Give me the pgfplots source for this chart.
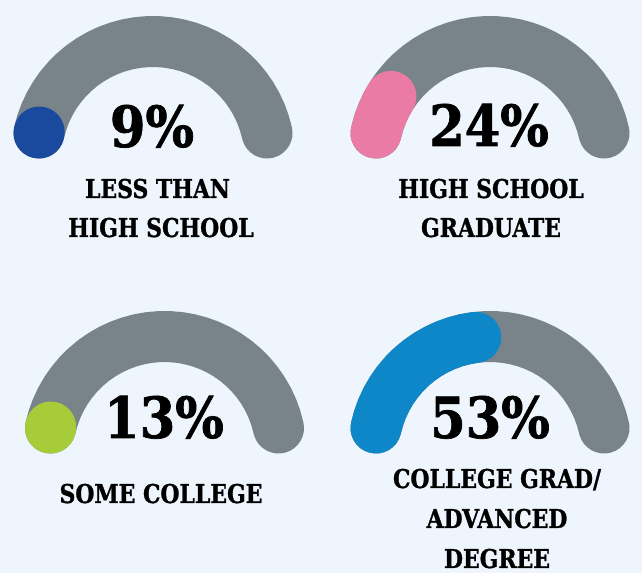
\documentclass[border=0pt]{standalone}
\usepackage{pgfplots}
\pgfplotsset{compat=1.18}
\usepackage{fontspec}
\setmainfont{DejaVu Serif Condensed}
\newfontfamily\heavy[FakeBold=1.2]{DejaVu Serif Condensed Bold}
\newfontfamily\heavylbl[FakeBold=1.0, FakeStretch=0.94]{DejaVu Serif Condensed Bold}

\definecolor{bg}{HTML}{EEF5FC}
\definecolor{track}{HTML}{788489}
\definecolor{navy}{HTML}{1A4A9E}
\definecolor{pink}{HTML}{E97BA5}
\definecolor{lime}{HTML}{A6CC3A}
\definecolor{sky}{HTML}{0E87C9}

\pgfplotsset{
  gauge/.style={x=1bp, y=1bp, hide axis, clip=false,
    xmin=-150, xmax=150, ymin=-60, ymax=150, anchor=south west},
  ring/.style={no marks, line width=51bp, line cap=round, line join=round, data cs=polar},
}

% gray track: angle (deg), radius (px)
\newcommand\track{%
\addplot[ring, track] coordinates {
(167.5,116.8) (162.5,116.8) (157.5,116.8) (152.5,116.8) (147.5,116.8)
(142.5,116.8) (137.5,116.8) (132.5,116.8) (127.5,116.8) (122.5,116.8)
(117.5,116.8) (112.5,116.8) (107.5,116.8) (102.5,116.8) (97.5,116.8)
(92.5,116.8) (87.5,116.8) (82.5,116.8) (77.5,116.8) (72.5,116.8)
(67.5,116.8) (62.5,116.8) (57.5,116.8) (52.5,116.8) (47.5,116.8)
(42.5,116.8) (37.5,116.8) (32.5,116.8) (27.5,116.8) (22.5,116.8)
(17.5,116.8) (12.5,116.8)
};}

\newcommand\pct[1]{{\heavy\fontsize{57}{60}\selectfont #1}}
\newcommand\lbl[1]{{\heavylbl\fontsize{26}{30}\selectfont #1}}

\begin{document}
\begin{tikzpicture}[x=1bp, y=1bp]
\fill[bg] (0,0) rectangle (642,573);

% Less than high school: 9%
\begin{axis}[gauge, at={(3bp,354.7bp)}]
\track
\addplot[ring, navy] coordinates {(167.5,116.8) (167.0,116.8)};
\end{axis}

% High school graduate: 24%
\begin{axis}[gauge, at={(340bp,354.7bp)}]
\track
\addplot[ring, pink] coordinates {(167.5,116.8) (162.5,116.8) (157.5,116.8) (152.5,116.8) (148,116.8)};
\end{axis}

% Some college: 13%
\begin{axis}[gauge, at={(14.5bp,59.7bp)}]
\track
\addplot[ring, lime] coordinates {(167.5,116.8) (167.0,116.8)};
\end{axis}

% College grad / advanced degree: 53%
\begin{axis}[gauge, at={(340bp,59.7bp)}]
\track
\addplot[ring, sky] coordinates {
(167.5,116.8) (162.5,116.8) (157.5,116.8) (152.5,116.8) (147.5,116.8)
(142.5,116.8) (137.5,116.8) (132.5,116.8) (127.5,116.8) (122.5,116.8)
(117.5,116.8) (112.5,116.8) (107.5,116.8) (102.5,116.8) (97,116.8)};
\end{axis}

\node[anchor=base] at (152,426) {\pct{9\%}};
\node[anchor=base] at (489,427) {\pct{24\%}};
\node[anchor=base] at (164,135) {\pct{13\%}};
\node[anchor=base] at (490,135) {\pct{53\%}};

\node[anchor=base] at (157.5,375) {\lbl{LESS THAN}};
\node[anchor=base] at (161,336) {\lbl{HIGH SCHOOL}};
\node[anchor=base] at (491,375) {\lbl{HIGH SCHOOL}};
\node[anchor=base] at (491,336) {\lbl{GRADUATE}};
\node[anchor=base] at (161,70) {\lbl{SOME COLLEGE}};
\node[anchor=base] at (497,85) {\lbl{COLLEGE GRAD/}};
\node[anchor=base] at (497,45) {\lbl{ADVANCED}};
\node[anchor=base] at (497,5) {\lbl{DEGREE}};

\pgfresetboundingbox
\path (0,0) rectangle (642,573);
\end{tikzpicture}
\end{document}
